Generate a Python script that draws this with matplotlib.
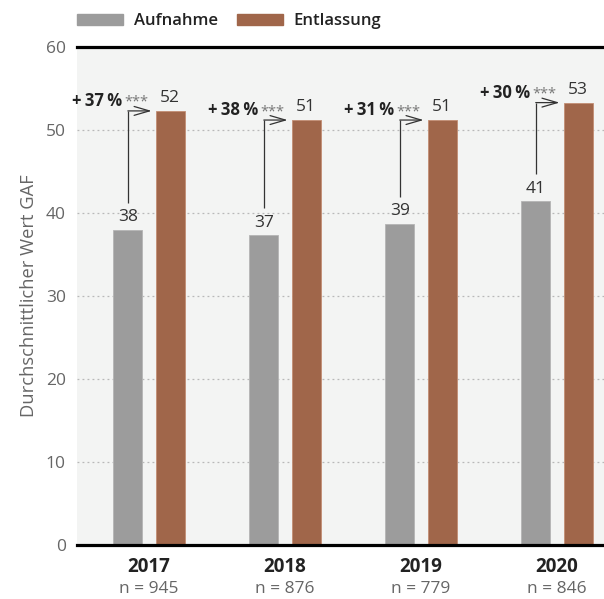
import matplotlib
matplotlib.use("Agg")
import matplotlib.pyplot as plt
from matplotlib.patches import Patch
import numpy as np

plt.rcParams['font.family'] = ['Open Sans', 'DejaVu Sans']

years = ["2017", "2018", "2019", "2020"]
n_labels = ["n = 945", "n = 876", "n = 779", "n = 846"]
aufnahme = [38.0, 37.3, 38.7, 41.4]
entlassung = [52.3, 51.2, 51.2, 53.3]
aufnahme_lbl = ["38", "37", "39", "41"]
entlassung_lbl = ["52", "51", "51", "53"]
pct_lbl = ["+\u200937\u2009%", "+\u200938\u2009%", "+\u200931\u2009%", "+\u200930\u2009%"]
yticks = [0, 10, 20, 30, 40, 50, 60]

GRAY = "#9c9c9c"
BROWN = "#a0664a"
BG = "#f3f4f3"
TXT = "#333333"
TICK = "#666666"

fig = plt.figure(figsize=(6.04, 5.99), dpi=100)
ax = fig.add_axes([77/604, 54/599, 527/604, 498/599])
ax.set_facecolor(BG)

x = np.arange(len(years))
w = 0.213
off = 0.156
ax.bar(x - off, aufnahme, w, color=GRAY, edgecolor="#b5b5b5", linewidth=0.6, zorder=3)
ax.bar(x + off, entlassung, w, color=BROWN, edgecolor="#c28e74", linewidth=0.6, zorder=3)

ax.set_xlim(-0.53, 3.346)
ax.set_ylim(0, 60)
ax.set_yticks(yticks)
ax.set_yticklabels([str(t) for t in yticks], fontsize=12.5, color=TICK)
ax.tick_params(axis='y', length=0, pad=8)
ax.set_xticks(x)
ax.set_xticklabels(years, fontsize=13.5, fontweight='bold', color="#222222")
ax.tick_params(axis='x', length=0, pad=9)

for t in yticks[1:-1]:
    ax.axhline(t, color="#b8b8b8", lw=0.9, ls=(0, (1.5, 2.5)), zorder=1)

for s in ['left', 'right']:
    ax.spines[s].set_visible(False)
ax.spines['top'].set_linewidth(2.3)
ax.spines['bottom'].set_linewidth(2.3)
ax.spines['top'].set_zorder(5)
ax.spines['bottom'].set_zorder(5)

ax.set_ylabel("Durchschnittlicher Wert GAF", fontsize=13.2, color=TICK)
ax.yaxis.set_label_coords(-0.074, 0.5)

for i in range(len(years)):
    xg = x[i] - off
    xo = x[i] + off
    ax.annotate(aufnahme_lbl[i], (xg, aufnahme[i]), xytext=(0, 3.5), textcoords='offset points',
                ha='center', va='bottom', fontsize=12.5, color=TXT)
    ax.annotate(entlassung_lbl[i], (xo, entlassung[i]), xytext=(0, 3.5), textcoords='offset points',
                ha='center', va='bottom', fontsize=12.5, color=TXT)
    ax.plot([xg, xg], [aufnahme[i] + 3.25, entlassung[i]], color=TXT, lw=0.9, zorder=4,
            solid_capstyle='butt')
    ax.annotate("", xy=(xo - w/2, entlassung[i]), xycoords='data',
                xytext=(xg, entlassung[i]), textcoords='data',
                arrowprops=dict(arrowstyle='->,head_length=1.1,head_width=0.32',
                                color=TXT, lw=0.9, shrinkA=0, shrinkB=3))
    star = ax.annotate("***", (xo - w/2, entlassung[i] + 0.6), xytext=(-5, 0),
                       textcoords='offset points', ha='right', va='baseline',
                       fontsize=10.5, color="#777777")
    ax.annotate(pct_lbl[i], xy=(0, 0), xycoords=star, xytext=(-2, 0),
                textcoords='offset points', ha='right', va='bottom',
                fontsize=12, fontweight='bold', color="#222222")
    ax.annotate(n_labels[i], (x[i], 0), xycoords=('data', 'axes fraction'),
                xytext=(0, -26), textcoords='offset points', ha='center', va='top',
                fontsize=12.5, color=TICK)

handles = [Patch(facecolor=GRAY, edgecolor=GRAY, label="Aufnahme"),
           Patch(facecolor=BROWN, edgecolor=BROWN, label="Entlassung")]
leg = fig.legend(handles=handles, loc='upper left', bbox_to_anchor=(77/604, 1 - 13/599),
                 ncol=2, frameon=False, borderpad=0, borderaxespad=0,
                 handlelength=2.75, handleheight=0.66,
                 handletextpad=0.66, columnspacing=1.15,
                 prop={'size': 12, 'weight': 'semibold'})
for t in leg.get_texts():
    t.set_color("#222222")

fig.savefig("out.png", dpi=100)
